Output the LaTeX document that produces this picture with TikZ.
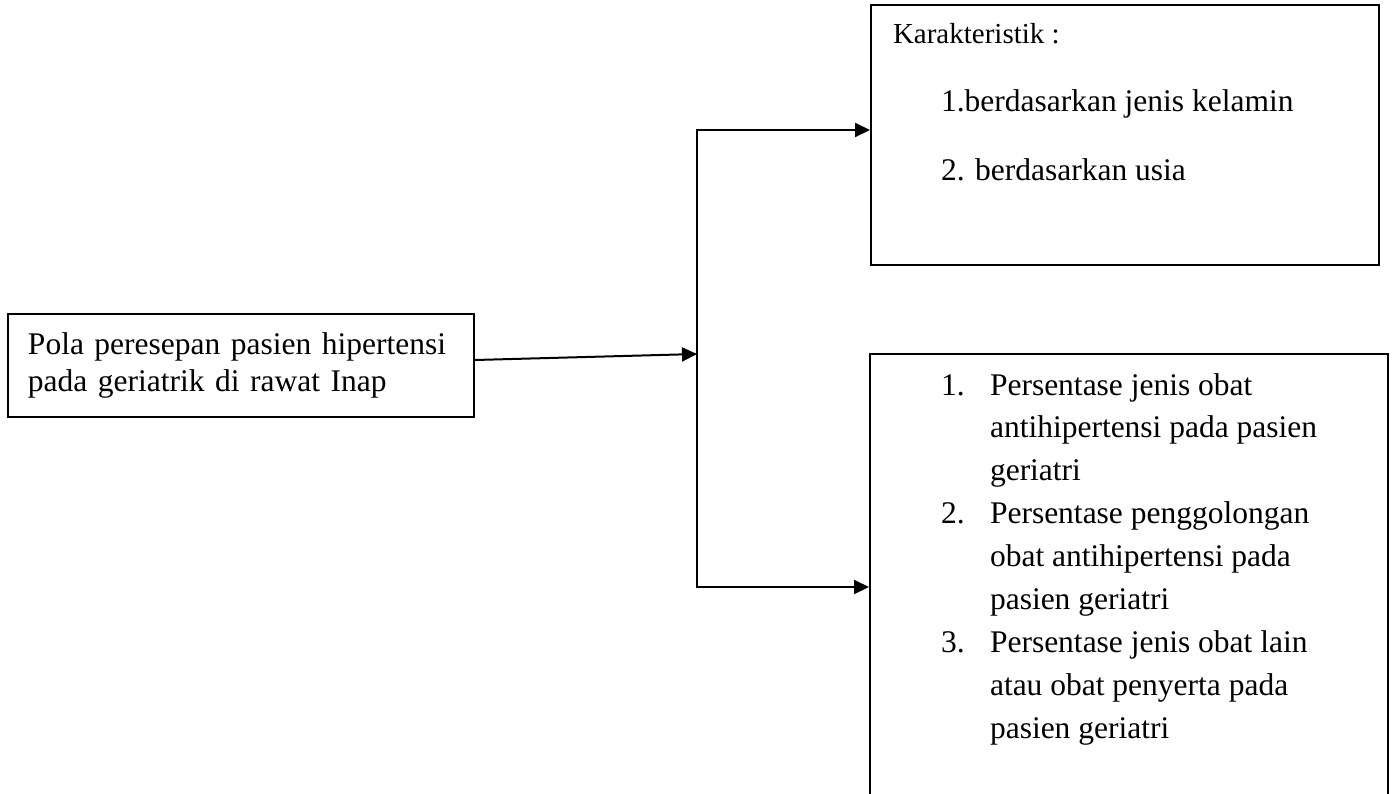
\documentclass[tikz,border=0pt]{standalone}
\usepackage{fontspec}
\setmainfont{Liberation Serif}
\usetikzlibrary{arrows.meta}

\begin{document}
\begin{tikzpicture}[x=0.4pt, y=-0.4pt, line width=0.8pt,
  box/.style={draw, line width=0.8pt, inner sep=0pt},
  arr/.style={-{Triangle[length=6pt, width=5.6pt]}},
  txt/.style={anchor=base west, inner sep=0pt, font=\fontsize{12.6}{15}\selectfont}]

  \useasboundingbox (0,0) rectangle (1392,793);
  \clip (0,0) rectangle (1392,793);

  % ── Boxes ────────────────────────────────────────────────────────────────────

  \node[box, minimum width=186.4pt, minimum height=41.2pt, text width=170.4pt,
        inner xsep=8pt, align=left, font=\fontsize{12.6}{14.8}\selectfont]
        (pola) at (241, 365.5) {Pola peresepan pasien hipertensi\\pada geriatrik di rawat Inap};

  \node[box, minimum width=203.2pt, minimum height=104pt] (karak) at (1125, 135) {};
  \node[box, minimum width=207.2pt, minimum height=186.4pt] (hasil) at (1129, 587) {};

  % ── Top box text ─────────────────────────────────────────────────────────────

  \node[txt, font=\fontsize{11.6}{14}\selectfont] (judul) at (892, 43) {Karakteristik :};
  \node[txt] (kel) at (940, 111) {1.berdasarkan jenis kelamin};
  \node[txt] (usia) at (940, 180) {2. berdasarkan usia};

  % ── Bottom box list ──────────────────────────────────────────────────────────

  \foreach \n/\row in {1/0, 2/3, 3/6}
    \node[txt] (no\n) at (940, {395+42.9*\row}) {\n.};
  \foreach \ln [count=\i from 0] in {Persentase jenis obat, antihipertensi pada pasien,
      geriatri, Persentase penggolongan, obat antihipertensi pada, pasien geriatri,
      Persentase jenis obat lain, atau obat penyerta pada, pasien geriatri}
    \node[txt] (baris\i) at (989, {395+42.9*\i}) {\ln};

  % ── Connectors ───────────────────────────────────────────────────────────────

  \coordinate (cabang) at (697, 354);
  \draw[arr] ([yshift=2.2pt]pola.east) -- (cabang);
  \draw[arr] (cabang) |- ([yshift=2pt]karak.west);
  \draw[arr] (cabang) |- (hasil.west);

\end{tikzpicture}
\end{document}
